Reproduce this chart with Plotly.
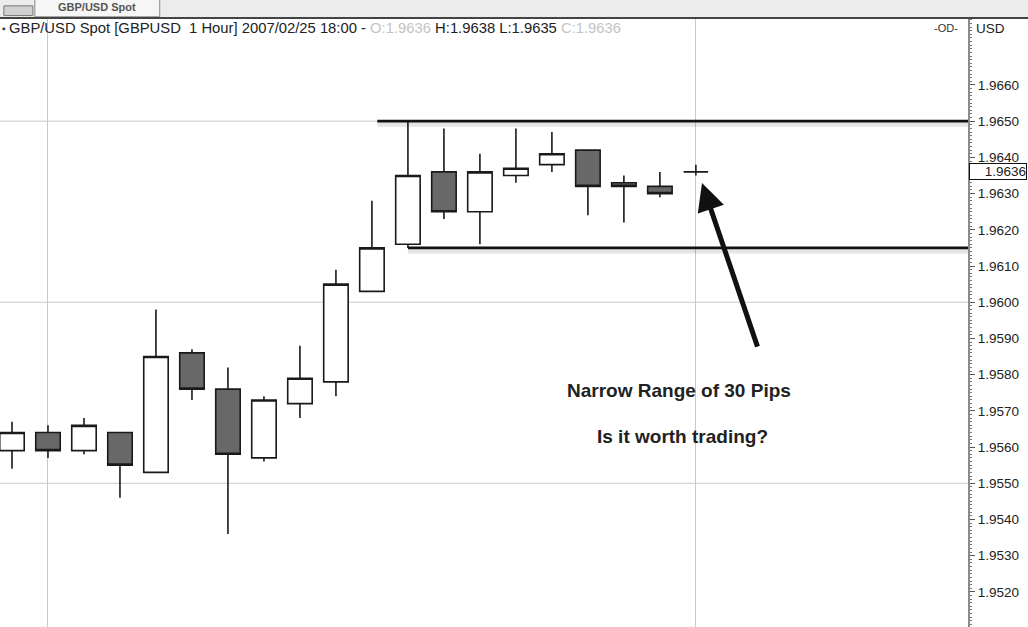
import plotly.graph_objects as go

# ---- data (GBP/USD 1 hour candles) ----
bar_index = list(range(20))
opens  = [1.9559, 1.9564, 1.9559, 1.9564, 1.9553, 1.9586, 1.9576, 1.9557, 1.9572, 1.9578,
          1.9603, 1.9616, 1.9636, 1.9625, 1.9635, 1.9638, 1.9642, 1.9633, 1.9632, 1.9636]
highs  = [1.9567, 1.9566, 1.9568, 1.9564, 1.9598, 1.9587, 1.9582, 1.9574, 1.9588, 1.9609,
          1.9628, 1.9650, 1.9648, 1.9641, 1.9648, 1.9647, 1.9642, 1.9635, 1.9636, 1.9638]
lows   = [1.9554, 1.9557, 1.9558, 1.9546, 1.9553, 1.9573, 1.9536, 1.9556, 1.9568, 1.9574,
          1.9603, 1.9615, 1.9623, 1.9616, 1.9633, 1.9636, 1.9624, 1.9622, 1.9629, 1.9635]
closes = [1.9564, 1.9559, 1.9566, 1.9555, 1.9585, 1.9576, 1.9558, 1.9573, 1.9579, 1.9605,
          1.9615, 1.9635, 1.9625, 1.9636, 1.9637, 1.9641, 1.9632, 1.9632, 1.9630, 1.9636]

range_levels = [1.9650, 1.9615]          # resistance, support
range_starts = [10.15, 11.0]             # bar index where each line starts
grid_levels = [1.9550, 1.9600, 1.9650]
price_ticks = [1.9520, 1.9530, 1.9540, 1.9550, 1.9560, 1.9570, 1.9580, 1.9590,
               1.9600, 1.9610, 1.9620, 1.9630, 1.9640, 1.9650, 1.9660]
last_price = 1.9636

header = ("GBP/USD Spot [GBPUSD  1 Hour] 2007/02/25 18:00 - "
          "<span style='color:#c4c4c4'>O:1.9636</span> H:1.9638 L:1.9635 "
          "<span style='color:#c4c4c4'>C:1.9636</span>")

X_RANGE = [-0.333, 26.56]
Y_RANGE = [1.95103, 1.96785]
FONT = "Liberation Sans, Arial, sans-serif"

fig = go.Figure()

# range lines (with a faint shadow)
for lvl, x0 in zip(range_levels, range_starts):
    fig.add_trace(go.Scatter(x=[x0, X_RANGE[1]], y=[lvl - 0.00007, lvl - 0.00007], mode="lines",
                             line=dict(color="rgba(0,0,0,0.10)", width=6),
                             hoverinfo="skip", showlegend=False))
    fig.add_trace(go.Scatter(x=[x0, X_RANGE[1]], y=[lvl, lvl], mode="lines",
                             line=dict(color="#111111", width=2.8),
                             hoverinfo="skip", showlegend=False))

fig.add_trace(go.Candlestick(
    x=bar_index, open=opens, high=highs, low=lows, close=closes,
    increasing=dict(fillcolor="#ffffff", line=dict(color="#1a1a1a", width=1.6)),
    decreasing=dict(fillcolor="#686868", line=dict(color="#1a1a1a", width=1.6)),
    whiskerwidth=0, showlegend=False))

shapes = []
for g in grid_levels:
    shapes.append(dict(type="line", xref="paper", x0=0, x1=1, yref="y", y0=g, y1=g,
                       line=dict(color="#c9c9c9", width=1), layer="below"))
# top toolbar strip
shapes.append(dict(type="rect", xref="paper", yref="paper", x0=0, x1=1.07, y0=1.0, y1=1.04,
                   fillcolor="#ececec", line=dict(width=0), layer="above"))
shapes.append(dict(type="rect", xref="paper", yref="paper", x0=0.036, x1=0.165, y0=1.002, y1=1.036,
                   fillcolor="#f6f6f6", line=dict(color="#888888", width=1), layer="above"))
shapes.append(dict(type="rect", xref="paper", yref="paper", x0=0.004, x1=0.034, y0=1.004, y1=1.02,
                   fillcolor="#d0d0d0", line=dict(color="#777777", width=1), layer="above"))
shapes.append(dict(type="line", xref="paper", yref="paper", x0=0, x1=1.07, y0=1.0, y1=1.0,
                   line=dict(color="#444444", width=2)))

annotations = [
    dict(text=header, xref="paper", yref="paper", x=0.007, y=0.9835, xanchor="left",
         yanchor="middle", showarrow=False, font=dict(family=FONT, size=14.8, color="#222222")),
    dict(text="▪", xref="paper", yref="paper", x=0.0, y=0.9835, xanchor="left",
         yanchor="middle", showarrow=False, font=dict(family=FONT, size=10, color="#333333")),
    dict(text="<b>GBP/USD Spot</b>", xref="paper", yref="paper", x=0.1, y=1.018, xanchor="center",
         yanchor="middle", showarrow=False, font=dict(family=FONT, size=11, color="#555555")),
    dict(text="-OD-", xref="paper", yref="paper", x=0.977, y=0.9835, xanchor="center",
         yanchor="middle", showarrow=False, font=dict(family=FONT, size=11, color="#333333")),
    dict(text="USD", xref="paper", yref="paper", x=1.0, xshift=6, y=0.9835, xanchor="left",
         yanchor="middle", showarrow=False, font=dict(family=FONT, size=13.5, color="#222222")),
    dict(text="1.9636", xref="paper", yref="y", x=1.0, xshift=1, y=last_price, xanchor="left",
         yanchor="middle", showarrow=False, bgcolor="#ffffff", bordercolor="#111111",
         borderwidth=1, borderpad=0, width=56, align="right",
         font=dict(family=FONT, size=13.5, color="#222222")),
    dict(text="<b>Narrow Range of 30 Pips</b>", x=18.52, y=1.95755, showarrow=False,
         font=dict(family=FONT, size=19, color="#222222")),
    dict(text="<b>Is it worth trading?</b>", x=18.63, y=1.95628, showarrow=False,
         font=dict(family=FONT, size=19, color="#222222")),
    dict(text="", x=19.17, y=1.96329, ax=56, ay=165, showarrow=True, arrowhead=2,
         arrowsize=1.1, arrowwidth=5, arrowcolor="#111111"),
]

fig.update_layout(
    width=1028, height=627,
    margin=dict(l=0, r=60, t=18, b=0),
    paper_bgcolor="#ffffff", plot_bgcolor="#ffffff",
    boxgap=0.2, boxgroupgap=0.15,
    shapes=shapes, annotations=annotations,
    xaxis=dict(range=X_RANGE, rangeslider=dict(visible=False), showticklabels=False,
               ticks="", showgrid=True, gridcolor="#c9c9c9", gridwidth=1, tick0=1, dtick=18,
               zeroline=False, showline=False, fixedrange=True),
    yaxis=dict(range=Y_RANGE, side="right", tickmode="array", tickvals=price_ticks,
               tickformat=".4f",
               ticks="outside", ticklen=5, tickcolor="#555555", showgrid=False,
               showline=True, linecolor="#8a8a8a", linewidth=2, zeroline=False,
               tickfont=dict(family=FONT, size=13.5, color="#222222"),
               minor=dict(dtick=0.0001, ticks="outside", ticklen=2, tickcolor="#777777",
                          showgrid=False)),
    hovermode=False,
)

fig.write_html("out.html", config={"displayModeBar": False},
               post_script="document.body.style.margin='0px';document.body.style.overflow='hidden';")
